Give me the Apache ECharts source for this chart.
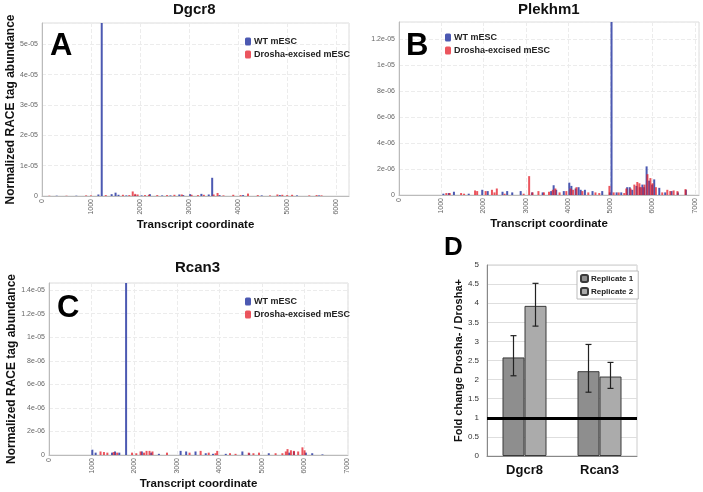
<!DOCTYPE html>
<html>
<head>
<meta charset="utf-8">
<script src="https://cdn.jsdelivr.net/npm/echarts@6/dist/echarts.min.js"></script>
<style>
html, body { margin: 0; padding: 0; background: #fff; }
#chart { width: 703px; height: 492px; }
</style>
</head>
<body>
<div id="chart"></div>
<script>
// RACE tag tracks: [transcript coordinate, normalized abundance]
const dgcr8Wt = [[300,1e-7],[700,1e-7],[1150,5e-7],[1218,5.7e-5],[1420,6e-7],[1500,1.1e-6],[1560,4e-7],[1720,2e-7],[1900,3e-7],[2030,2e-7],[2200,6e-7],[2450,2e-7],[2620,2e-7],[2800,5e-7],[2880,3e-7],[3020,6e-7],[3250,7e-7],[3400,5e-7],[3470,6e-6],[3620,3e-7],[4100,3e-7],[4480,2e-7],[4850,3e-7],[5200,2e-7],[5650,2e-7]];
const dgcr8Dr = [[150,1e-7],[500,1e-7],[900,2e-7],[1000,2e-7],[1300,3e-7],[1650,4e-7],[1780,3e-7],[1850,1.5e-6],[1900,7e-7],[1950,5e-7],[2100,3e-7],[2180,4e-7],[2350,3e-7],[2550,3e-7],[2700,4e-7],[2850,5e-7],[3050,4e-7],[3180,3e-7],[3300,4e-7],[3500,5e-7],[3580,1e-6],[3700,2e-7],[3900,4e-7],[4050,3e-7],[4200,8e-7],[4400,3e-7],[4650,2e-7],[4800,5e-7],[4900,4e-7],[5000,3e-7],[5100,4e-7],[5450,2e-7],[5600,3e-7],[5700,2e-7]];

const plekhm1Wt = [[1050,1e-7],[1180,1.5e-7],[1300,2.5e-7],[1650,1e-7],[1970,4e-7],[2100,3e-7],[2450,2.5e-7],[2560,3e-7],[2680,2e-7],[2880,3e-7],[3150,2e-7],[3400,2e-7],[3600,3e-7],[3660,7.5e-7],[3720,4e-7],[3900,3e-7],[4030,9.5e-7],[4080,7e-7],[4180,5e-7],[4250,6e-7],[4300,4e-7],[4400,4e-7],[4580,3e-7],[4810,3e-7],[4990,2e-7],[5030,1.4e-5],[5150,2e-7],[5260,2e-7],[5400,6e-7],[5460,6e-7],[5520,4e-7],[5620,7e-7],[5700,6e-7],[5760,8e-7],[5800,6e-7],[5860,2.2e-6],[5920,1.1e-6],[5990,8e-7],[6040,1.2e-6],[6160,5.5e-7],[6300,2e-7],[6450,3e-7],[6600,2e-7],[6790,4e-7]];
const plekhm1Dr = [[1120,1.5e-7],[1200,1.5e-7],[1470,1.5e-7],[1540,1e-7],[1800,3.5e-7],[1850,3e-7],[2050,3e-7],[2200,4e-7],[2260,2e-7],[2315,5e-7],[2500,1e-7],[2950,1e-7],[3080,1.45e-6],[3160,2e-7],[3300,3e-7],[3430,2e-7],[3550,2.5e-7],[3640,4e-7],[3700,5e-7],[3800,2e-7],[3960,3e-7],[4060,5e-7],[4120,4e-7],[4200,6e-7],[4340,3e-7],[4480,2e-7],[4650,2e-7],[4740,1.5e-7],[4980,7e-7],[5080,2e-7],[5200,2e-7],[5330,1.5e-7],[5380,5e-7],[5480,5e-7],[5570,8e-7],[5640,1e-6],[5690,9e-7],[5740,6e-7],[5810,8e-7],[5880,1.6e-6],[5950,1.3e-6],[6000,9e-7],[6080,6e-7],[6230,2e-7],[6350,4e-7],[6420,3e-7],[6500,3.5e-7],[6590,3e-7],[6780,4.5e-7]];

const rcan3Wt = [[1017,4.5e-7],[1095,2e-7],[1480,2e-7],[1550,3e-7],[1650,2e-7],[1810,1.46e-5],[2180,3e-7],[2400,2e-7],[2580,1e-7],[3090,3.5e-7],[3220,3e-7],[3440,3e-7],[3680,1.5e-7],[3850,1e-7],[4150,1e-7],[4540,3e-7],[4700,1.5e-7],[5160,1.5e-7],[5640,2e-7],[5750,3e-7],[6030,2e-7],[6180,1.5e-7],[6420,5e-8]];
const rcan3Dr = [[1210,3e-7],[1290,2.5e-7],[1370,2e-7],[1520,2.5e-7],[1600,2e-7],[1950,2e-7],[2050,1.5e-7],[2150,3e-7],[2230,2e-7],[2290,3.5e-7],[2360,3.5e-7],[2430,3e-7],[2770,2e-7],[3300,2e-7],[3560,3.5e-7],[3750,2e-7],[3910,1.5e-7],[3950,3.5e-7],[4250,1.5e-7],[4380,1e-7],[4690,2e-7],[4800,1.5e-7],[4930,2e-7],[5320,1.5e-7],[5480,1.5e-7],[5560,3e-7],[5600,5e-7],[5680,4e-7],[5750,3.5e-7],[5850,3e-7],[5950,6.5e-7],[6000,4e-7]];

// panel D: fold change
const genes = ['Dgcr8', 'Rcan3'];
const rep1 = [2.58, 2.22];
const rep2 = [3.93, 2.08];
const rep1Err = [[0, 2.1, 3.15], [1, 1.67, 2.92]];
const rep2Err = [[0, 3.4, 4.52], [1, 1.77, 2.45]];

const FONT = 'Liberation Sans, Arial, sans-serif';
const WT_COLOR = 'rgba(45,60,165,0.85)';
const DR_COLOR = 'rgba(228,28,40,0.75)';

function sci(v) {
    if (v === 0) return '0';
    let s = Number(v.toPrecision(4)).toExponential();
    return s.replace(/e([+-])(\d)$/, 'e$10$2');
}

function trackX(grid, max) {
    return {
        type: 'value', gridIndex: grid, min: 0, max: max, interval: 1000,
        name: 'Transcript coordinate', nameLocation: 'middle', nameGap: 21,
        nameTextStyle: { fontFamily: FONT, fontWeight: 'bold', fontSize: 11.5, color: '#111' },
        axisLine: { show: true, lineStyle: { color: '#bbb' } },
        axisTick: { show: false },
        axisLabel: { rotate: 90, fontSize: 7, color: '#666', fontFamily: FONT, margin: 3, showMaxLabel: false,
            formatter: function (v) { return String(v); } },
        splitLine: { show: true, lineStyle: { color: '#ececec', type: 'dashed' } }
    };
}

function trackY(grid, max, step, withName, gap) {
    return {
        type: 'value', gridIndex: grid, min: 0, max: max, interval: step,
        name: withName ? 'Normalized RACE tag abundance' : '',
        nameLocation: 'middle', nameGap: gap,
        nameTextStyle: { fontFamily: FONT, fontWeight: 'bold', fontSize: 12, color: '#111' },
        axisLine: { show: true, lineStyle: { color: '#bbb' } },
        axisTick: { show: false },
        axisLabel: { fontSize: 7, color: '#666', fontFamily: FONT, margin: 4, formatter: sci, showMaxLabel: false },
        splitLine: { show: true, lineStyle: { color: '#ececec', type: 'dashed' } }
    };
}

function track(name, grid, data, color) {
    return {
        name: name, type: 'bar', xAxisIndex: grid, yAxisIndex: grid,
        data: data, barWidth: 2, barGap: '-100%', clip: true,
        itemStyle: { color: color }, silent: true
    };
}

function trackLegend(left, top) {
    return {
        data: ['WT mESC', 'Drosha-excised mESC'], left: left, top: top, orient: 'vertical',
        itemWidth: 6, itemHeight: 8, itemGap: 4, selectedMode: false,
        textStyle: { fontFamily: FONT, fontWeight: 'bold', fontSize: 9, color: '#222', padding: [0, 0, 0, -2] }
    };
}

function errBars(data, offset) {
    return {
        type: 'custom', xAxisIndex: 3, yAxisIndex: 3, data: data, silent: true, z: 5,
        renderItem: function (params, api) {
            const lo = api.coord([api.value(0), api.value(1)]);
            const hi = api.coord([api.value(0), api.value(2)]);
            const x = lo[0] + offset;
            const st = { stroke: '#222', lineWidth: 1.2 };
            return {
                type: 'group',
                children: [
                    { type: 'line', shape: { x1: x, y1: lo[1], x2: x, y2: hi[1] }, style: st },
                    { type: 'line', shape: { x1: x - 3, y1: lo[1], x2: x + 3, y2: lo[1] }, style: st },
                    { type: 'line', shape: { x1: x - 3, y1: hi[1], x2: x + 3, y2: hi[1] }, style: st }
                ]
            };
        }
    };
}

const chart = echarts.init(document.getElementById('chart'));
chart.setOption({
    backgroundColor: '#fff',
    animation: false,
    textStyle: { fontFamily: FONT },
    grid: [
        { left: 42, top: 23, width: 307, height: 173, show: true, borderColor: '#ddd', backgroundColor: '#fff' },
        { left: 399, top: 22, width: 300, height: 173, show: true, borderColor: '#ddd', backgroundColor: '#fff' },
        { left: 49, top: 283, width: 299, height: 172, show: true, borderColor: '#ddd', backgroundColor: '#fff' },
        { left: 487, top: 265, width: 150, height: 191, show: true, borderColor: '#ccc', backgroundColor: '#fff' }
    ],
    legend: [
        trackLegend(240, 32),
        trackLegend(440, 28),
        trackLegend(240, 292),
        {
            data: ['Replicate 1', 'Replicate 2'], left: 577, top: 271, orient: 'vertical',
            itemWidth: 7, itemHeight: 7, itemGap: 4, selectedMode: false,
            padding: [3, 5, 3, 3], borderColor: '#bbb', borderWidth: 1, backgroundColor: '#fff',
            textStyle: { fontFamily: FONT, fontWeight: 'bold', fontSize: 8, color: '#222', padding: [0, 0, 0, -2] }
        }
    ],
    graphic: [
        { type: 'text', z: 100, left: 173, top: 2, style: { text: 'Dgcr8', font: 'bold 15px ' + FONT, fill: '#111' } },
        { type: 'text', z: 100, left: 518, top: 2, style: { text: 'Plekhm1', font: 'bold 15px ' + FONT, fill: '#111' } },
        { type: 'text', z: 100, left: 175, top: 260, style: { text: 'Rcan3', font: 'bold 15px ' + FONT, fill: '#111' } },
        { type: 'text', z: 100, left: 50, top: 31, style: { text: 'A', font: 'bold 31px ' + FONT, fill: '#000' } },
        { type: 'text', z: 100, left: 406, top: 31, style: { text: 'B', font: 'bold 31px ' + FONT, fill: '#000' } },
        { type: 'text', z: 100, left: 57, top: 293, style: { text: 'C', font: 'bold 31px ' + FONT, fill: '#000' } },
        { type: 'text', z: 100, left: 444, top: 235, style: { text: 'D', font: 'bold 26px ' + FONT, fill: '#000' } }
    ],
    xAxis: [
        trackX(0, 6260),
        trackX(1, 7100),
        trackX(2, 7020),
        {
            type: 'category', gridIndex: 3, data: genes,
            axisLine: { lineStyle: { color: '#888' } },
            axisTick: { show: false },
            axisLabel: { fontFamily: FONT, fontWeight: 'bold', fontSize: 13, color: '#111', margin: 8 }
        }
    ],
    yAxis: [
        trackY(0, 5.7e-5, 1e-5, true, 17),
        trackY(1, 1.33e-5, 2e-6, false, 17),
        trackY(2, 1.46e-5, 2e-6, true, 24),
        {
            type: 'value', gridIndex: 3, min: 0, max: 5, interval: 0.5,
            name: 'Fold change Drosha- / Drosha+', nameLocation: 'middle', nameGap: 21,
            nameTextStyle: { fontFamily: FONT, fontWeight: 'bold', fontSize: 11, color: '#111' },
            axisLine: { show: true, lineStyle: { color: '#888' } },
            axisTick: { show: false },
            axisLabel: { fontFamily: FONT, fontSize: 8, color: '#333', margin: 8 },
            splitLine: { show: true, lineStyle: { color: '#dedede' } }
        }
    ],
    series: [
        track('WT mESC', 0, dgcr8Wt, WT_COLOR),
        track('Drosha-excised mESC', 0, dgcr8Dr, DR_COLOR),
        track('WT mESC', 1, plekhm1Wt, WT_COLOR),
        track('Drosha-excised mESC', 1, plekhm1Dr, DR_COLOR),
        track('WT mESC', 2, rcan3Wt, WT_COLOR),
        track('Drosha-excised mESC', 2, rcan3Dr, DR_COLOR),
        {
            name: 'Replicate 1', type: 'bar', xAxisIndex: 3, yAxisIndex: 3, data: rep1,
            barWidth: 22, barGap: '0%', silent: true,
            itemStyle: { color: '#8e8e8e', borderColor: '#3a3a3a', borderWidth: 1 }
        },
        {
            name: 'Replicate 2', type: 'bar', xAxisIndex: 3, yAxisIndex: 3, data: rep2,
            barWidth: 22, barGap: '0%', silent: true,
            itemStyle: { color: '#ababab', borderColor: '#3a3a3a', borderWidth: 1 },
            markLine: {
                silent: true, symbol: 'none', label: { show: false },
                lineStyle: { color: '#000', width: 3, type: 'solid' },
                data: [{ yAxis: 1 }]
            }
        },
        errBars(rep1Err, -11),
        errBars(rep2Err, 11)
    ]
});
</script>
</body>
</html>
